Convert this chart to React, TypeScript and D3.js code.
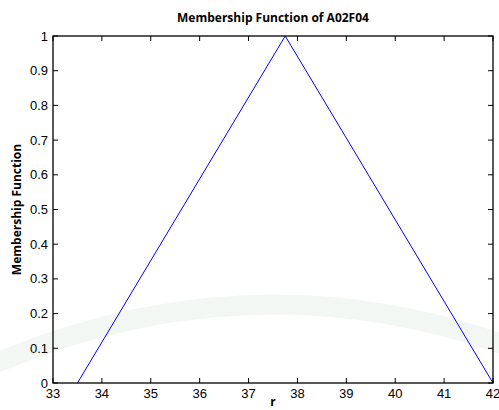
import React from "react";
import * as d3 from "d3";

const xTicks = [33, 34, 35, 36, 37, 38, 39, 40, 41, 42];
const yTicks = [0, 0.1, 0.2, 0.3, 0.4, 0.5, 0.6, 0.7, 0.8, 0.9, 1];
const rValues = [33.5, 37.75, 42];
const muValues = [0, 1, 0];

const W = 499;
const H = 410;
const M = { left: 53, right: 6, top: 36, bottom: 27 };

export default function App() {
  const x = d3.scaleLinear().domain([33, 42]).range([M.left, W - M.right]);
  const y = d3.scaleLinear().domain([0, 1]).range([H - M.bottom, M.top]);
  const pts = rValues.map((r, i) => [r, muValues[i]] as [number, number]);
  const line = d3
    .line<[number, number]>()
    .x((d) => x(d[0]))
    .y((d) => y(d[1]));
  const tl = 5;
  const font = "Liberation Sans, Arial, sans-serif";
  const x0 = x(33), x1 = x(42), y0 = y(0), y1 = y(1);
  return (
    <svg
      width={W}
      height={H}
      style={{ position: "absolute", left: 0, top: 0, background: "#fff" }}
    >
      {/* faint watermark arcs */}
      <path
        d={`M -20 ${H - 40} Q ${W / 2} ${H - 160} ${W + 20} ${H - 60}`}
        fill="none"
        stroke="#f3f7f3"
        strokeWidth={20}
      />
      <path d={line(pts) || ""} fill="none" stroke="#0000ff" strokeWidth={1} />
      <rect
        x={x0}
        y={y1}
        width={x1 - x0}
        height={y0 - y1}
        fill="none"
        stroke="#000"
        strokeWidth={1.3}
      />
      {xTicks.map((t) => (
        <g key={"x" + t}>
          <line x1={x(t)} x2={x(t)} y1={y0} y2={y0 - tl} stroke="#000" />
          <line x1={x(t)} x2={x(t)} y1={y1} y2={y1 + tl} stroke="#000" />
          <text
            x={x(t)}
            y={y0 + 15}
            textAnchor="middle"
            fontFamily={font}
            fontSize={13}
            fill="#000"
          >
            {t}
          </text>
        </g>
      ))}
      {yTicks.map((t) => (
        <g key={"y" + t}>
          <line x1={x0} x2={x0 + tl} y1={y(t)} y2={y(t)} stroke="#000" />
          <line x1={x1} x2={x1 - tl} y1={y(t)} y2={y(t)} stroke="#000" />
          <text
            x={x0 - 5}
            y={y(t) + 4.5}
            textAnchor="end"
            fontFamily={font}
            fontSize={13}
            fill="#000"
          >
            {t}
          </text>
        </g>
      ))}
      <text
        x={(x0 + x1) / 2}
        y={22}
        textAnchor="middle"
        fontFamily="Open Sans, sans-serif"
        fontWeight="bold"
        fontSize={12}
        fill="#000"
      >
        Membership Function of A02F04
      </text>
      <text
        transform={`translate(21, ${(y0 + y1) / 2}) rotate(-90)`}
        textAnchor="middle"
        fontFamily="Open Sans, sans-serif"
        fontWeight="bold"
        fontSize={12}
        fill="#000"
      >
        Membership Function
      </text>
      <text
        x={(x0 + x1) / 2}
        y={H - 4}
        textAnchor="middle"
        fontFamily="Open Sans, sans-serif"
        fontWeight="bold"
        fontSize={12}
        fill="#000"
      >
        r
      </text>
    </svg>
  );
}
